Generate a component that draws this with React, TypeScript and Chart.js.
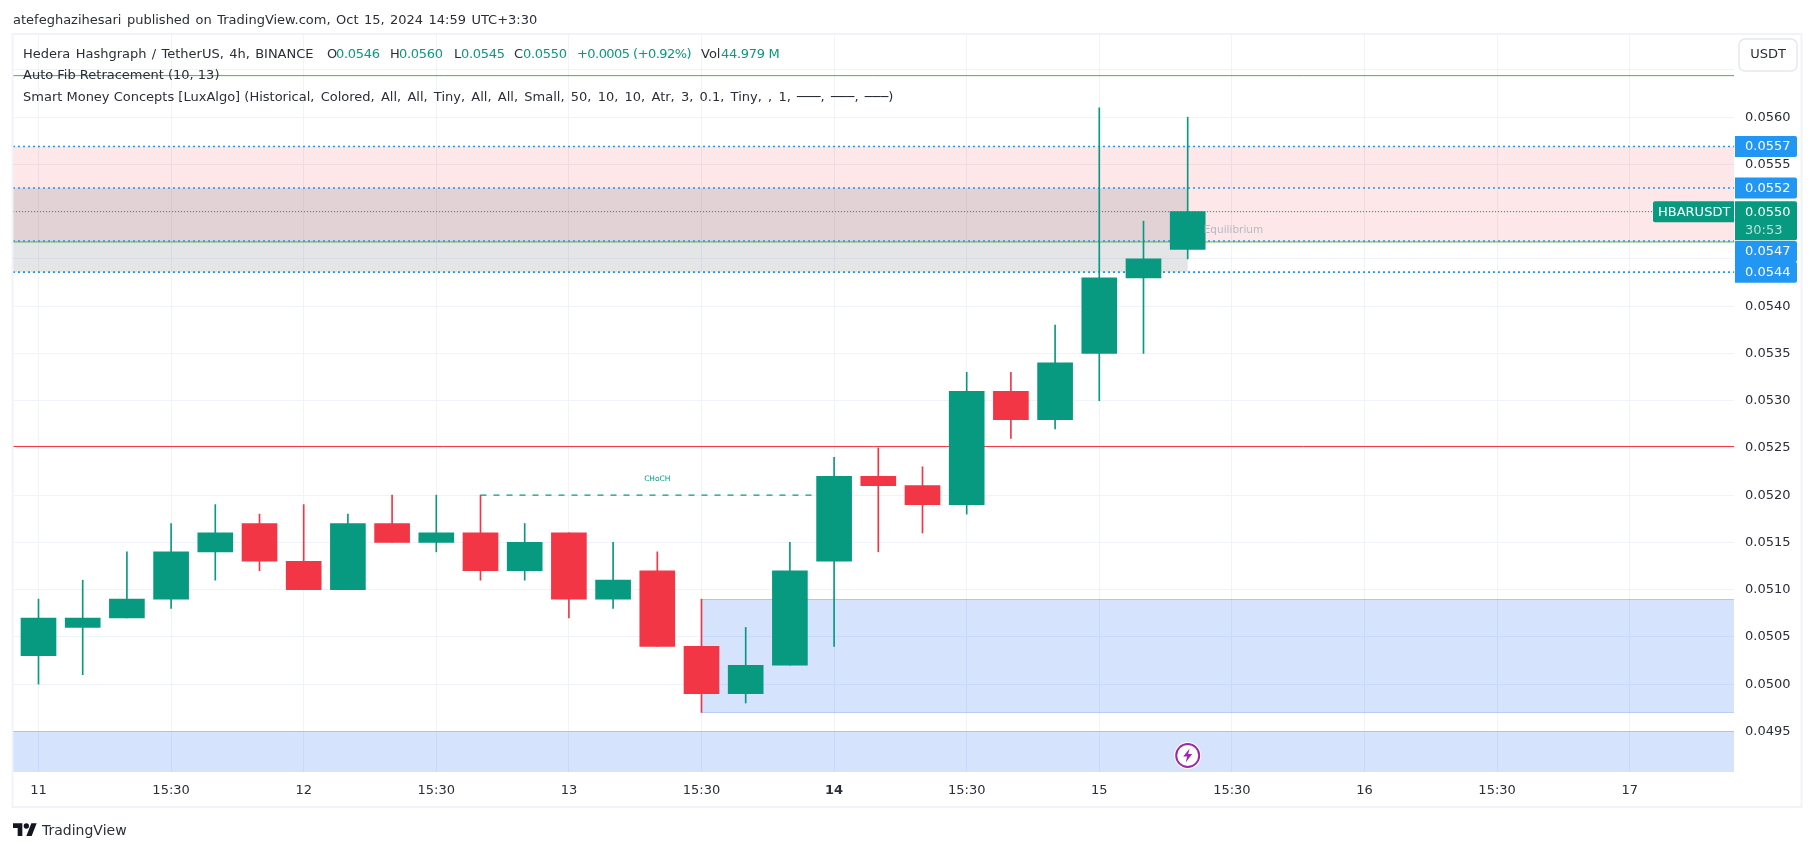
import React, { useEffect, useRef } from "react";
import { Chart, registerables } from "chart.js";

Chart.register(...registerables);

const FONT = '"DejaVu Sans", sans-serif';
const UP = "#089981";
const DOWN = "#f23645";
const TEXT = "#2a2e39";

// candle values
const opens = [0.0503,0.0506,0.0507,0.0509,0.0514,0.0517,0.0513,0.051,0.0517,0.0515,0.0516,0.0512,0.0516,0.0509,0.0512,0.0504,0.0499,0.0502,0.0513,0.0522,0.0521,0.0519,0.0531,0.0528,0.0535,0.0543,0.0546];
const highs = [0.0509,0.0511,0.0514,0.0517,0.0519,0.0518,0.0519,0.0518,0.052,0.052,0.052,0.0517,0.0516,0.0515,0.0514,0.0509,0.0506,0.0515,0.0524,0.0525,0.0523,0.0533,0.0533,0.0538,0.0561,0.0549,0.056];
const lows = [0.05,0.0501,0.0507,0.0508,0.0511,0.0512,0.051,0.051,0.0515,0.0514,0.0511,0.0511,0.0507,0.0508,0.0504,0.0497,0.0498,0.0502,0.0504,0.0514,0.0516,0.0518,0.0526,0.0527,0.053,0.0535,0.0545];
const closes = [0.0507,0.0507,0.0509,0.0514,0.0516,0.0513,0.051,0.0517,0.0515,0.0516,0.0512,0.0515,0.0509,0.0511,0.0504,0.0499,0.0502,0.0512,0.0522,0.0521,0.0519,0.0531,0.0528,0.0534,0.0543,0.0545,0.055];

// axes
const xTickBars = [0,3,6,9,12,15,18,21,24,27,30,33,36];
const xTickLabels = ["11","15:30","12","15:30","13","15:30","14","15:30","15","15:30","16","15:30","17"];
const yTickValues = [0.0495,0.05,0.0505,0.051,0.0515,0.052,0.0525,0.053,0.0535,0.054,0.0545,0.055,0.0555,0.056,0.0565];
const yTickLabels = ["0.0495","0.0500","0.0505","0.0510","0.0515","0.0520","0.0525","0.0530","0.0535","0.0540","","","0.0555","0.0560",""];
const X_MIN = -0.577;
const X_MAX = 38.36;

// level lines
const dottedBlueLevels = [0.05569,0.05525,0.05469,0.05436];
const greenLevels = [0.05644,0.05468];
const redLevel = 0.052515;
const lastPrice = 0.055;
const chochLevel = 0.052;
const chochFromBar = 10;
const chochToBar = 18;

// zones: [from bar, to bar, top, bottom]
const pinkZone = [X_MIN, X_MAX, 0.05569, 0.05469];
const greyZone = [X_MIN, 26, 0.05525, 0.05436];
const blueZoneUpper = [15, X_MAX, 0.0509, 0.0497];
const blueZoneLower = [X_MIN, X_MAX, 0.0495, 0.0485];

const priceTags = [
  { text: "0.0557", price: 0.05569, shift: 0 },
  { text: "0.0552", price: 0.05525, shift: 0 },
  { text: "0.0547", price: 0.05469, shift: 10.5 },
  { text: "0.0544", price: 0.05436, shift: 0 },
];

const legendParts = [
  { text: "O", left: 327, up: false, squeeze: 0 },
  { text: "0.0546", left: 336, up: true, squeeze: -0.3 },
  { text: "H", left: 390, up: false, squeeze: 0 },
  { text: "0.0560", left: 399, up: true, squeeze: -0.3 },
  { text: "L", left: 454, up: false, squeeze: 0 },
  { text: "0.0545", left: 461, up: true, squeeze: -0.3 },
  { text: "C", left: 514, up: false, squeeze: 0 },
  { text: "0.0550", left: 523, up: true, squeeze: -0.3 },
  { text: "+0.0005 (+0.92%)", left: 577, up: true, squeeze: -0.55 },
  { text: "Vol", left: 701, up: false, squeeze: 0 },
  { text: "44.979 M", left: 721, up: true, squeeze: -0.3 },
];

const hline = (level: number, from = X_MIN, to = X_MAX) => [
  { x: from, y: level },
  { x: to, y: level },
];

const overlayPlugin = {
  id: "overlay",
  beforeDatasetsDraw(chart: any) {
    const { ctx, chartArea: a, scales } = chart;
    const x = scales.x;
    const y = scales.y;
    const zone = (z: number[], fill: string, edge?: string) => {
      const l = x.getPixelForValue(z[0]);
      const r = x.getPixelForValue(z[1]);
      const t = y.getPixelForValue(z[2]);
      const b = y.getPixelForValue(z[3]);
      ctx.save();
      ctx.beginPath();
      ctx.rect(a.left, a.top, a.right - a.left, a.bottom - a.top);
      ctx.clip();
      ctx.fillStyle = fill;
      ctx.fillRect(l, t, r - l, b - t);
      if (edge) {
        ctx.fillStyle = edge;
        ctx.fillRect(l, Math.round(t), r - l, 1);
        ctx.fillRect(l, Math.round(b), r - l, 1);
      }
      ctx.restore();
    };
    zone(pinkZone, "rgba(242,54,69,0.12)");
    zone(greyZone, "rgba(120,123,134,0.2)");
    zone(blueZoneUpper, "rgba(45,115,240,0.2)", "rgba(45,100,230,0.25)");
    zone(blueZoneLower, "rgba(45,115,240,0.2)", "rgba(45,100,230,0.25)");
  },
  afterDraw(chart: any) {
    const { ctx, chartArea: a, scales } = chart;
    const x = scales.x;
    const y = scales.y;
    const W = chart.width;
    const tagL = a.right + 1;
    const tagW = 62;

    // annotations
    ctx.save();
    ctx.textBaseline = "middle";
    ctx.textAlign = "left";
    ctx.font = `10.5px ${FONT}`;
    ctx.fillStyle = "#b8bac4";
    ctx.fillText("Equilibrium", x.getPixelForValue(26) + 16, y.getPixelForValue(0.0548));
    ctx.font = `7.5px ${FONT}`;
    ctx.fillStyle = UP;
    ctx.textAlign = "center";
    ctx.fillText("CHoCH", x.getPixelForValue(14), y.getPixelForValue(chochLevel) - 16);

    // price tags
    ctx.font = `13px ${FONT}`;
    ctx.textAlign = "left";
    for (const t of priceTags) {
      const cy = y.getPixelForValue(t.price) + t.shift;
      ctx.fillStyle = "#2196f3";
      ctx.beginPath();
      ctx.roundRect(tagL, cy - 10.5, tagW, 21, [0, 2, 2, 0]);
      ctx.fill();
      ctx.fillStyle = "#ffffff";
      ctx.fillText(t.text, tagL + 10, cy + 0.5);
    }

    // last price tag
    const ly = y.getPixelForValue(lastPrice);
    ctx.fillStyle = UP;
    ctx.beginPath();
    ctx.roundRect(tagL, ly - 10.5, tagW, 39, [0, 2, 2, 0]);
    ctx.fill();
    ctx.fillStyle = "#ffffff";
    ctx.fillText("0.0550", tagL + 10, ly + 0.5);
    ctx.fillStyle = "rgba(255,255,255,0.7)";
    ctx.fillText("30:53", tagL + 10, ly + 18.5);
    ctx.fillStyle = UP;
    ctx.beginPath();
    ctx.roundRect(a.right - 81, ly - 10.5, 81, 21, [2, 0, 0, 2]);
    ctx.fill();
    ctx.fillStyle = "#ffffff";
    ctx.fillText("HBARUSDT", a.right - 76, ly + 0.5);

    // currency button
    ctx.fillStyle = "#ffffff";
    ctx.strokeStyle = "#e6e8f0";
    ctx.lineWidth = 1.5;
    ctx.beginPath();
    ctx.roundRect(a.right + 5, 39, 58, 32, 6);
    ctx.fill();
    ctx.stroke();
    ctx.fillStyle = TEXT;
    ctx.textAlign = "center";
    ctx.fillText("USDT", a.right + 34, 55);

    // lightning badge
    const bx = x.getPixelForValue(26);
    const by = a.bottom - 16.5;
    ctx.beginPath();
    ctx.arc(bx, by, 13.5, 0, Math.PI * 2);
    ctx.fillStyle = "#ffffff";
    ctx.fill();
    ctx.beginPath();
    ctx.arc(bx, by, 11.5, 0, Math.PI * 2);
    ctx.strokeStyle = "#9c27b0";
    ctx.lineWidth = 2;
    ctx.stroke();
    ctx.beginPath();
    ctx.moveTo(bx + 2, by - 7);
    ctx.lineTo(bx - 4.5, by + 1);
    ctx.lineTo(bx - 0.5, by + 1);
    ctx.lineTo(bx - 2, by + 7);
    ctx.lineTo(bx + 4.5, by - 1.5);
    ctx.lineTo(bx + 0.5, by - 1.5);
    ctx.closePath();
    ctx.fillStyle = "#9c27b0";
    ctx.fill();

    // frame
    ctx.strokeStyle = "#f0f3fa";
    ctx.lineWidth = 2;
    ctx.strokeRect(a.left - 0.5, a.top - 1, W - 12 - a.left, 807 - a.top + 1);
    ctx.restore();
  },
};

const lineStyle = {
  type: "line" as const,
  pointRadius: 0,
  fill: false,
  tension: 0,
  spanGaps: true,
};

export default function App() {
  const ref = useRef<HTMLCanvasElement>(null);

  useEffect(() => {
    const bars = opens.map((_, i) => i);
    const colors = bars.map((i) => (closes[i] >= opens[i] ? UP : DOWN));
    const chart = new Chart(ref.current as HTMLCanvasElement, {
      type: "bar",
      data: {
        datasets: [
          {
            label: "Bodies",
            data: bars.map((i) => ({ x: i, y: [opens[i], closes[i]] })),
            backgroundColor: colors,
            barThickness: 35,
            grouped: false,
            order: 1,
            borderSkipped: false,
          },
          {
            label: "Wicks",
            data: bars.map((i) => ({ x: i, y: [lows[i], highs[i]] })),
            backgroundColor: colors,
            barThickness: 1,
            grouped: false,
            order: 2,
          },
          ...dottedBlueLevels.map((level) => ({
            ...lineStyle,
            label: `Level ${level}`,
            data: hline(level),
            borderColor: "#2196f3",
            borderWidth: 1.6,
            borderDash: [2, 3],
            order: 4,
          })),
          ...greenLevels.map((level) => ({
            ...lineStyle,
            label: `Fib ${level}`,
            data: hline(level),
            borderColor: "#4caf50",
            borderWidth: 1,
            order: 5,
          })),
          {
            ...lineStyle,
            label: "Fib red",
            data: hline(redLevel),
            borderColor: DOWN,
            borderWidth: 1,
            order: 5,
          },
          {
            ...lineStyle,
            label: "Last price",
            data: hline(lastPrice),
            borderColor: UP,
            borderWidth: 1,
            borderDash: [1, 2],
            order: 5,
          },
          {
            ...lineStyle,
            label: "CHoCH",
            data: hline(chochLevel, chochFromBar, chochToBar),
            borderColor: UP,
            borderWidth: 1.4,
            borderDash: [6, 7],
            order: 5,
          },
        ] as any,
      },
      options: {
        responsive: false,
        animation: false,
        parsing: { xAxisKey: "x", yAxisKey: "y" } as any,
        layout: { padding: { left: 13, top: 35, right: 12, bottom: 44 } },
        plugins: { legend: { display: false }, tooltip: { enabled: false } },
        scales: {
          x: {
            type: "linear",
            min: X_MIN,
            max: X_MAX,
            offset: false,
            afterBuildTicks(axis: any) {
              axis.ticks = xTickBars.map((value) => ({ value }));
            },
            afterFit(axis: any) {
              axis.height = 35;
            },
            grid: { color: "#f0f3fa", lineWidth: 1, drawTicks: false, offset: false },
            border: { display: false },
            ticks: {
              autoSkip: false,
              maxRotation: 0,
              padding: 11,
              color: TEXT,
              font: (c: any) => ({
                family: FONT,
                size: 13,
                weight: xTickLabels[c.index] === "14" ? "bold" : "normal",
              }),
              callback: (_v: any, i: number) => xTickLabels[i],
            },
          },
          y: {
            type: "linear",
            position: "right",
            min: 0.04907,
            max: 0.05687,
            afterBuildTicks(axis: any) {
              axis.ticks = yTickValues.map((value) => ({ value }));
            },
            afterFit(axis: any) {
              axis.width = 68;
            },
            grid: { color: "#f0f3fa", lineWidth: 1, drawTicks: false },
            border: { display: false },
            ticks: {
              autoSkip: false,
              padding: 11,
              color: TEXT,
              font: { family: FONT, size: 13 },
              callback: (_v: any, i: number) => yTickLabels[i],
            },
          },
        },
      },
      plugins: [overlayPlugin],
    });
    return () => chart.destroy();
  }, []);

  const abs = (left: number, top: number): React.CSSProperties => ({
    position: "absolute",
    left,
    top,
    lineHeight: "16px",
    fontFamily: FONT,
    fontSize: 13,
    color: TEXT,
    whiteSpace: "nowrap",
  });

  return (
    <div style={{ position: "absolute", left: 0, top: 0, width: 1814, height: 851, background: "#fff", overflow: "hidden" }}>
      <canvas ref={ref} width={1814} height={851} style={{ position: "absolute", left: 0, top: 0 }} />
      <div style={{ ...abs(13, 12), wordSpacing: 1.3 }}>atefeghazihesari published on TradingView.com, Oct 15, 2024 14:59 UTC+3:30</div>
      <div style={{ ...abs(23, 46), wordSpacing: 1.2 }}>Hedera Hashgraph / TetherUS, 4h, BINANCE</div>
      {legendParts.map((p) => (
        <div key={p.left} style={{ ...abs(p.left, 46), color: p.up ? UP : TEXT, letterSpacing: p.squeeze }}>
          {p.text}
        </div>
      ))}
      <div style={abs(23, 67)}>Auto Fib Retracement (10, 13)</div>
      <div style={abs(23, 89)}>
        Smart Money Concepts [LuxAlgo]{" "}
        <span style={{ wordSpacing: 2.1 }}>
          (Historical, Colored, All, All, Tiny, All, All, Small, 50, 10, 10, Atr, 3, 0.1, Tiny, , 1, ───, ───, ───)
        </span>
      </div>
      <svg style={{ position: "absolute", left: 13, top: 822 }} width="24" height="14" viewBox="0 0 36 21">
        <path d="M14 21H7V9H0V2h14v19zM28 21h-8l7.5-19h8L28 21z" fill="#131722" />
        <circle cx="20" cy="6" r="4" fill="#131722" />
      </svg>
      <div style={{ ...abs(42, 821), fontSize: 14, lineHeight: "18px" }}>TradingView</div>
    </div>
  );
}
